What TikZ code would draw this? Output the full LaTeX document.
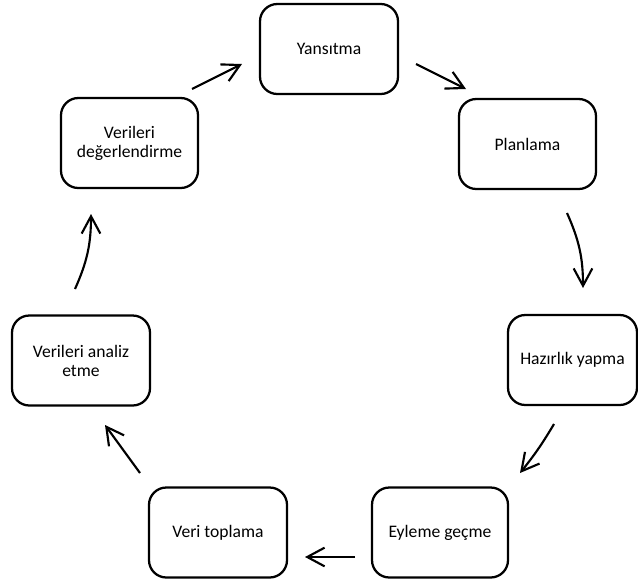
\documentclass[tikz,border=0pt]{standalone}
\usepackage{fontspec}
\setmainfont{Carlito}
\usetikzlibrary{arrows.meta}
\begin{document}
\begin{tikzpicture}[x=0.75pt,y=-0.75pt,
  stagebox/.style={draw=black,line width=1.7pt,rounded corners=13pt,
    minimum width=#1*0.75pt,minimum height=90*0.75pt,inner sep=2pt,
    align=center,font=\fontsize{13.2}{14.3}\selectfont},
  stagebox/.default=137,
  flow/.style={line width=1.6pt,-{Straight Barb[length=13pt,width=14pt,line width=1.6pt]}}]
\useasboundingbox (0,0) rectangle (638,582);
\node[stagebox=138] (yan) at (329,49) {Yansıtma};
\node[stagebox=137] (plan) at (527.5,144) {Planlama};
\node[stagebox=129] (haz) at (572.5,360) {Hazırlık yapma};
\node[stagebox=136] (eyl) at (440,532.5) {Eyleme geçme};
\node[stagebox=138] (veri) at (218,532.5) {Veri toplama};
\node[stagebox=138] (anl) at (81,360.5) {Verileri analiz\\etme};
\node[stagebox=137] (deg) at (129.5,143) {Verileri\\değerlendirme};
\coordinate (s1) at (416,64);  \coordinate (e1) at (466,89);
\coordinate (s2) at (567,213); \coordinate (e2) at (583,288);
\coordinate (s3) at (554,424); \coordinate (e3) at (520,473);
\coordinate (s4) at (355,557); \coordinate (e4) at (305,557);
\coordinate (s5) at (140,473); \coordinate (e5) at (105,425);
\coordinate (s6) at (75,289);  \coordinate (e6) at (91,214);
\coordinate (s7) at (192,89);  \coordinate (e7) at (242,64);
\draw[flow] (s1) -- (e1);
\draw[flow] (s2) to[bend left=12] (e2);
\draw[flow] (s3) to[bend left=4] (e3);
\draw[flow] (s4) -- (e4);
\draw[flow] (s5) -- (e5);
\draw[flow] (s6) to[bend right=12] (e6);
\draw[flow] (s7) -- (e7);
\end{tikzpicture}
\end{document}
